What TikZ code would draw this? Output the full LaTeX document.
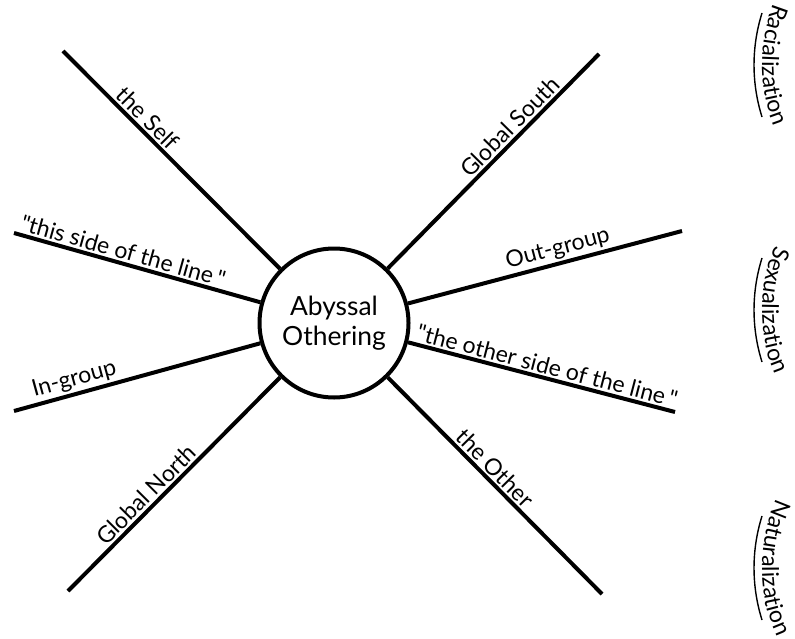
\documentclass[tikz,border=0pt]{standalone}
\usepackage{fontspec}
\setmainfont{Lato}
\usetikzlibrary{decorations.text}

\newcommand{\hubfont}{\fontsize{13.2}{15}\selectfont}
\newcommand{\lblfont}{\fontsize{11.5}{13}\selectfont}

\begin{document}
\begin{tikzpicture}[x=0.5pt, y=0.5pt,
  hub/.style={circle, draw, line width=2pt, minimum size=74.5pt, inner sep=0pt, align=center, font=\hubfont},
  spoke/.style={line width=2pt},
  lbl/.style={sloped, above, inner sep=1pt, font=\lblfont}]

\useasboundingbox (0,0) rectangle (795,638);

% central circle
\node[hub] (hub) at (334,315) {Abyssal\\Othering};

% outer ends of the spokes
\coordinate (self) at (63,587);
\coordinate (thisside) at (14,405);
\coordinate (south) at (599,584);
\coordinate (outgroup) at (682,407);
\coordinate (ingroup) at (14,227);
\coordinate (north) at (68,47);
\coordinate (otherside) at (675,226);
\coordinate (other) at (602,44);

% draw the spokes with their labels
\foreach \pt/\p/\txt in {self/0.65/the Self, thisside/0.57/\textquotedbl this side of the line\,\textquotedbl,
    south/0.62/Global South, outgroup/0.56/Out-group, ingroup/0.74/In-group,
    north/0.59/Global North, otherside/0.51/\textquotedbl the other side of the line\,\textquotedbl, other/0.46/the Other}
  \draw[spoke] (hub) -- (\pt) node[lbl, pos=\p] {\txt};

% side arcs with their words
\foreach \y/\txt in {573/Racialization, 328/Sexualization, 70/Naturalization}
{
  \draw[line width=0.7pt] ([shift={(162.5:173)}] 927,\y) arc (162.5:197.5:173);
  \path[decorate, decoration={text along path, text/.expanded={|\noexpand\lblfont|\txt}, text align=center}]
    ([shift={(150:165)}] 927,\y) arc (150:210:165);
}

\end{tikzpicture}
\end{document}
